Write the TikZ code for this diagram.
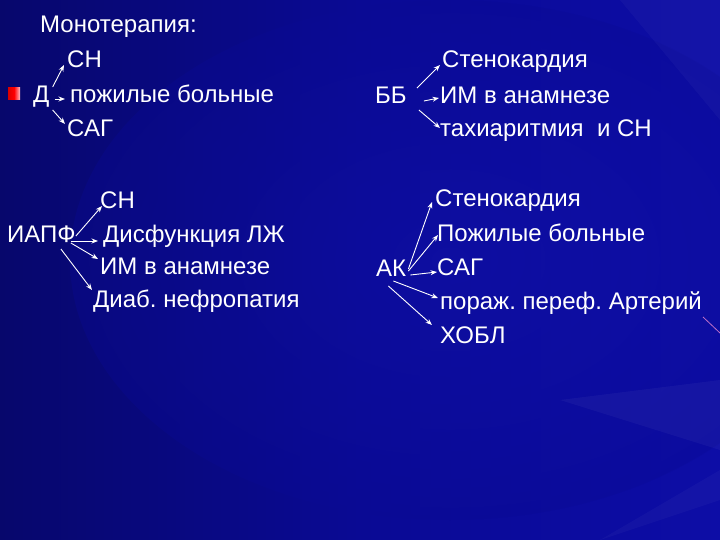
\documentclass[tikz,border=0pt]{standalone}
\usepackage{fontspec}
\setmainfont{Liberation Sans}
\usetikzlibrary{calc,arrows.meta}
\definecolor{bgL}{HTML}{07076C}
\definecolor{bgM}{HTML}{0A0A94}
\definecolor{bgR}{HTML}{0D0DA6}
\definecolor{bgC}{HTML}{1414B0}
\definecolor{bulR}{HTML}{D80000}
\definecolor{bulW}{HTML}{FFC0C8}
\definecolor{streak}{HTML}{C070C8}
\tikzset{
  lbl/.style={text=white, font=\fontsize{24}{27}\selectfont, inner sep=0pt, anchor=base west},
  arr/.style={draw=white, line width=0.9pt, -{Stealth[length=6.5pt,width=5pt]}}
}
\frenchspacing
\begin{document}
\begin{tikzpicture}[x=1pt,y=-1pt]
% background
\useasboundingbox (0,0) rectangle (720,540);
\shade[left color=bgL, right color=bgR, middle color=bgM] (0,0) rectangle (720,540);
\begin{scope}
\clip (0,0) rectangle (720,540);
\shade[inner color=bgC, outer color=bgM, opacity=0.35] (450,260) ellipse (380 and 260);
\fill[white, opacity=0.04] (560,400) -- (720,380) -- (720,450) -- cycle;
\fill[white, opacity=0.03] (600,540) -- (720,470) -- (720,500) -- cycle;
\fill[white, opacity=0.03] (620,0) -- (720,0) -- (720,120) -- cycle;
\end{scope}
\draw[streak, line width=0.8pt] (703,317) -- (720,333);
% bullet
\shade[left color=bulR, right color=bulW, middle color=red] (8,88) rectangle (20,100);
% top-left group
\node[lbl] (mono) at (40,33) {Монотерапия:};
\node[lbl] (D) at (33,103) {Д};
\node[lbl] (ch1) at (67,68) {СН};
\node[lbl] (old1) at (70,103) {пожилые больные};
\node[lbl] (sag1) at (67,137) {САГ};
\draw[arr] ($(D.base east)+(3,-16)$) -- ($(ch1.base west)+(-3,-3)$);
\draw[arr] ($(D.base east)+(5,-4)$) -- ($(old1.base west)+(-5,-4)$);
\draw[arr] ($(D.base east)+(3,7)$) -- ($(sag1.base west)+(-2,-13)$);
% top-right group
\node[lbl] (bb) at (375,104) {ББ};
\node[lbl] (sten1) at (442,68) {Стенокардия};
\node[lbl] (im1) at (440,104) {ИМ в анамнезе};
\node[lbl] (tachy) at (440,137) {тахиаритмия\ \ и СН};
\draw[arr] ($(bb.base east)+(10,-16)$) -- ($(sten1.base west)+(-2,-3)$);
\draw[arr] ($(bb.base east)+(17,-3)$) -- ($(im1.base west)+(-1,-6)$);
\draw[arr] ($(bb.base east)+(12,6)$) -- ($(tachy.base west)+(0,-9)$);
% bottom-left group
\node[lbl] (iapf) at (7,243) {ИАПФ};
\node[lbl] (ch2) at (100,208) {СН};
\node[lbl] (dysf) at (103,243) {Дисфункция ЛЖ};
\node[lbl] (im2) at (100,274) {ИМ в анамнезе};
\node[lbl] (diab) at (93,307) {Диаб. нефропатия};
\draw[arr] ($(iapf.base east)+(0,-7)$) -- ($(ch2.base west)+(2,-2)$);
\draw[arr] ($(iapf.base east)+(-5,-2)$) -- ($(dysf.base west)+(-5,-2)$);
\draw[arr] ($(iapf.base east)+(-5,0)$) -- ($(im2.base west)+(-2,-15)$);
\draw[arr] ($(iapf.base east)+(-15,6)$) -- ($(diab.base west)+(-1,-17)$);
% bottom-right group
\node[lbl] (ak) at (376,276) {АК};
\node[lbl] (sten2) at (435,207) {Стенокардия};
\node[lbl] (old2) at (437,241) {Пожилые больные};
\node[lbl] (sag2) at (437,275) {САГ};
\node[lbl] (art) at (440,309) {пораж. переф. Артерий};
\node[lbl] (copd) at (440,343) {ХОБЛ};
\draw[arr] ($(ak.base east)+(2,-7)$) -- ($(sten2.base west)+(-3,-5)$);
\draw[arr] ($(ak.base east)+(2,-5)$) -- ($(old2.base west)+(1,-6)$);
\draw[arr] ($(ak.base east)+(4,-1)$) -- ($(sag2.base west)+(0,-3)$);
\draw[arr] ($(ak.base east)+(-13,5)$) -- ($(art.base west)+(-2,-11)$);
\draw[arr] ($(ak.base east)+(-18,10)$) -- ($(copd.base west)+(-8,-18)$);
\end{tikzpicture}
\end{document}
